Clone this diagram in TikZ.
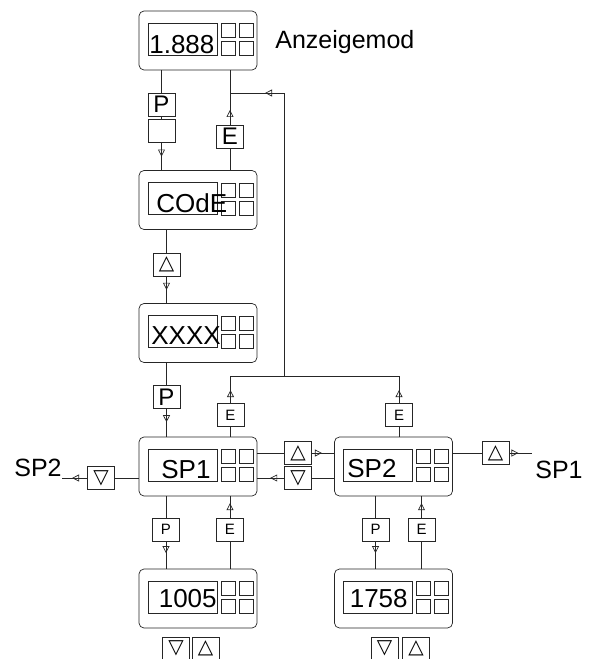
\documentclass[tikz,border=0pt]{standalone}
\usepackage{fontspec}
\setmainfont{Liberation Sans}
\newfontfamily\symf{DejaVu Sans}
\usepackage{tikz}
\usetikzlibrary{
	positioning,
	calc,
	arrows.meta,
	decorations.markings
}

\tikzset{
	unitframe/.style={draw, rounded corners=5pt, minimum width=118pt, minimum height=59pt, inner sep=0pt},
	dispbox/.style={draw, minimum width=69pt, minimum height=32pt, inner sep=0pt},
	keybox/.style={draw, minimum width=27pt, minimum height=23pt, inner sep=0pt, text=black},
	bigkey/.style={keybox, font=\fontsize{24}{28}\selectfont},
	smallkey/.style={keybox, font=\fontsize{15}{18}\selectfont},
	symkey/.style={keybox, font=\symf\fontsize{20}{24}\selectfont},
	txt/.style={inner sep=0pt, text=black, font=\fontsize{26}{30}\selectfont},
	flow/.style={postaction={decorate},
		decoration={markings, mark=at position #1 with {\arrow{Triangle[open,length=7pt,width=7pt]}}}}
}

% display unit: frame, screen and 2x2 buttons
\newcommand{\dispunit}[3]{%
	\node[unitframe] (#1) at (#2,#3) {};
	\node[dispbox] (#1-s) at ($(#1)+(-15.5,-1.5)$) {};
	\foreach \dx in {30,48}
		\foreach \dy in {-10,8}
			\draw ($(#1)+(\dx,\dy)$) +(-7,-7) rectangle +(7,7);
}

\begin{document}
\begin{tikzpicture}[x=1pt, y=-1pt, line width=0.7pt, color=black!85]
	
	\useasboundingbox (0,0) rectangle (589,659);
	\clip (0,0) rectangle (589,659);
	
	% units
	\dispunit{top}{198}{40.5}
	\dispunit{code}{198}{200}
	\dispunit{xxxx}{198}{333}
	\dispunit{sp1}{198}{466.5}
	\dispunit{sp2}{393.5}{466.5}
	\dispunit{v1005}{198}{598.5}
	\dispunit{v1758}{393.5}{598.5}
	
	% texts
	\node[txt, anchor=base west] (t1888) at (149,53) {1.888};
	\node[txt, anchor=base west, font=\fontsize{25}{30}\selectfont] (tanz) at (275,48) {Anzeigemod};
	\node[txt, anchor=base west] (tcode) at (156,212) {COdE};
	\node[txt, anchor=base west] (txxxx) at (151,344) {XXXX};
	\node[txt, anchor=base west] (tsp1) at (161,478) {SP1};
	\node[txt, anchor=base west] (tsp2) at (347,477) {SP2};
	\node[txt, anchor=base east] (t1005) at (217,607) {1005};
	\node[txt, anchor=base east] (t1758) at (408,607) {1758};
	\node[txt, anchor=base east, font=\fontsize{25}{30}\selectfont] (lsp2) at (62,476) {SP2};
	\node[txt, anchor=base west, font=\fontsize{25}{30}\selectfont] (lsp1) at (535,478) {SP1};
	
	% keys
	\node[bigkey] (P1) at (161.5,104.5) {P};
	\node[keybox] (blank) at (161.5,131) {};
	\node[bigkey] (E1) at (230,136.5) {E};
	\node[symkey] (up1) at (166.5,264.5) {△};
	\node[bigkey] (P2) at (166.5,397) {P};
	\node[smallkey] (E2) at (230.5,415) {E};
	\node[smallkey] (E3) at (399,415) {E};
	\node[symkey] (dn1) at (101,478) {▽};
	\node[symkey] (up2) at (298,453) {△};
	\node[symkey] (dn2) at (298,478) {▽};
	\node[symkey] (up3) at (495.5,453) {△};
	\node[smallkey] (P3) at (166,529.5) {P};
	\node[smallkey] (E4) at (230,529.5) {E};
	\node[smallkey] (P4) at (375.5,529.5) {P};
	\node[smallkey] (E5) at (421.5,529.5) {E};
	\node[symkey] (dn3) at (176,648.5) {▽};
	\node[symkey] (up4) at (205.5,648.5) {△};
	\node[symkey] (dn4) at (384.5,648.5) {▽};
	\node[symkey] (up5) at (416,648.5) {△};
	
	% junctions
	\coordinate (j1) at (230,93);
	\coordinate (j2) at (284,93);
	\coordinate (j3) at (284,376);
	\coordinate (j4) at (230.5,376);
	\coordinate (j5) at (399,376);
	\coordinate (w1) at (62,478);
	\coordinate (e1) at (532,453);
	
	% left column
	\draw (top.south -| P1) -- (P1.north);
	\draw (P1.south) -- (blank.north);
	\draw[flow=0.5] (blank.south) -- (code.north -| blank);
	\draw (code.north -| E1) -- (E1.south);
	\draw[flow=0.27] (E1.north) -- (top.south -| E1);
	\draw (j3) -- (j2);
	\draw[flow=0.35] (j2) -- (j1);
	\draw (code.south -| up1) -- (up1.north);
	\draw[flow=0.5] (up1.south) -- (xxxx.north -| up1);
	\draw (xxxx.south -| P2) -- (P2.north);
	\draw[flow=0.48] (P2.south) -- (sp1.north -| P2);
	
	% return to top
	\draw (sp1.north -| E2) -- (E2.south);
	\draw[flow=0.48] (E2.north) -- (j4);
	\draw (sp2.north -| E3) -- (E3.south);
	\draw[flow=0.48] (E3.north) -- (j5);
	\draw (j4) -- (j5);
	
	% SP1 / SP2 switching
	\draw (sp1.west |- dn1) -- (dn1.east);
	\draw[flow=0.6] (dn1.west) -- (w1);
	\draw (sp1.east |- up2) -- (up2.west);
	\draw[flow=0.45] (up2.east) -- (sp2.west |- up2);
	\draw (sp2.west |- dn2) -- (dn2.east);
	\draw[flow=0.52] (dn2.west) -- (sp1.east |- dn2);
	\draw (sp2.east |- up3) -- (up3.west);
	\draw[flow=0.4] (up3.east) -- (e1);
	
	% value setting
	\draw (sp1.south -| P3) -- (P3.north);
	\draw[flow=0.43] (P3.south) -- (v1005.north -| P3);
	\draw (v1005.north -| E4) -- (E4.south);
	\draw[flow=0.68] (E4.north) -- (sp1.south -| E4);
	\draw (sp2.south -| P4) -- (P4.north);
	\draw[flow=0.43] (P4.south) -- (v1758.north -| P4);
	\draw (v1758.north -| E5) -- (E5.south);
	\draw[flow=0.68] (E5.north) -- (sp2.south -| E5);
	
\end{tikzpicture}
\end{document}
